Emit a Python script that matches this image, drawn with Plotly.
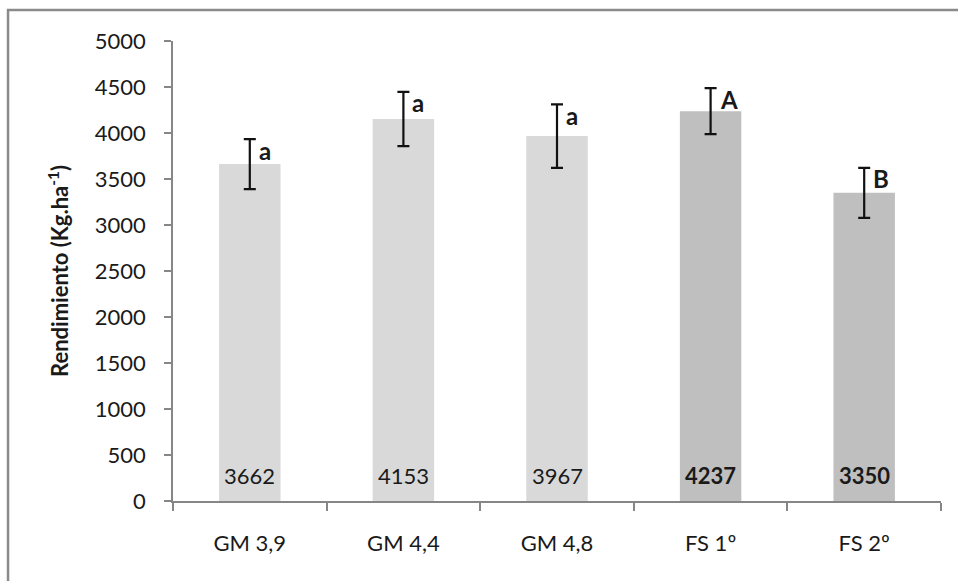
import plotly.graph_objects as go

# Yield per treatment (kg/ha) with standard deviation and significance letters
categories = ["GM 3,9", "GM 4,4", "GM 4,8", "FS 1º", "FS 2º"]
yields = [3662, 4153, 3967, 4237, 3350]
errors = [272, 295, 345, 250, 272]
letters = ["a", "a", "a", "A", "B"]
bold_labels = [False, False, False, True, True]
bar_colors = ["#D9D9D9", "#D9D9D9", "#D9D9D9", "#BFBFBF", "#BFBFBF"]
y_ticks = [0, 500, 1000, 1500, 2000, 2500, 3000, 3500, 4000, 4500, 5000]

FONT = "Lato"
TXT = "#1a1a1a"
AXIS = "#868686"

fig = go.Figure()
fig.add_trace(go.Bar(
    x=categories,
    y=yields,
    marker=dict(color=bar_colors, line=dict(width=0)),
    error_y=dict(type="data", array=errors, visible=True,
                 color="#111111", thickness=2.2, width=6),
    width=0.4,
    hoverinfo="skip",
))

# value labels near the bar base
for cat, val, bold in zip(categories, yields, bold_labels):
    txt = f"<b>{val}</b>" if bold else f"{val}"
    fig.add_annotation(x=cat, y=0, text=txt, showarrow=False,
                       yanchor="middle", yshift=26,
                       font=dict(family=FONT, size=22, color=TXT))

# significance letters beside the top of each error bar
for cat, val, err, let in zip(categories, yields, errors, letters):
    fig.add_annotation(x=cat, y=val + err, text=f"<b>{let}</b>", showarrow=False,
                       xanchor="left", xshift=7, yanchor="middle", yshift=-11,
                       font=dict(family=FONT, size=24, color=TXT))

# chart frame
fig.add_shape(type="rect", xref="paper", yref="paper",
              x0=-0.2148, x1=1.2, y0=-0.4, y1=1.0674,
              line=dict(color="#8a8a8a", width=2.5), layer="below")

fig.update_layout(
    width=958, height=581,
    margin=dict(l=173, r=17, t=41, b=80),
    paper_bgcolor="white", plot_bgcolor="white",
    showlegend=False,
    font=dict(family=FONT, color=TXT),
    xaxis=dict(
        showline=True, linecolor=AXIS, linewidth=1.5,
        ticks="outside", tickson="boundaries", ticklen=8, tickcolor=AXIS, tickwidth=1.5,
        tickfont=dict(family=FONT, size=22, color=TXT),
        ticklabelstandoff=22,
        showgrid=False, zeroline=False,
    ),
    yaxis=dict(
        range=[0, 5000], tickvals=y_ticks,
        showline=True, linecolor=AXIS, linewidth=1.5,
        ticks="outside", ticklen=7, tickcolor=AXIS, tickwidth=1.5,
        tickfont=dict(family=FONT, size=22, color=TXT),
        ticklabelstandoff=14,
        showgrid=False, zeroline=False,
        title=dict(text="<b>Rendimiento (Kg.ha<sup>-1</sup>)</b>",
                   font=dict(family=FONT, size=22, color=TXT), standoff=20),
    ),
)

fig.write_html("out.html")
